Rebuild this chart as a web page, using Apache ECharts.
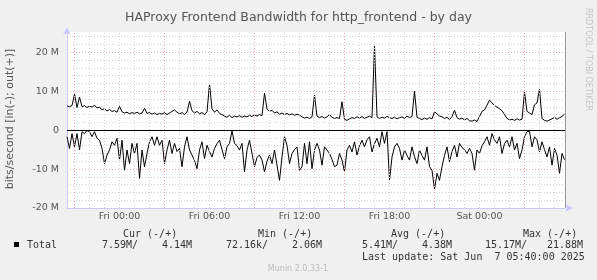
<!DOCTYPE html>
<html><head><meta charset="utf-8">
<script src="https://cdn.jsdelivr.net/npm/echarts@6/dist/echarts.min.js"></script>
<style>html,body{margin:0;padding:0;background:#f0f0f0;}#c{width:597px;height:280px;}</style>
</head><body><div id="c"></div>
<script>
// ---- data (Mbit/s), one sample every 10 minutes starting Thu 20:30 (hour -3.5 relative to Fri 00:00)
const startHour = -3.5;
const stepHours = 1 / 6;

const outValues = [
  6.2,6.0,6.3,9.2,5.8,8.5,6.0,6.3,5.8,6.2,
  5.9,6.4,5.7,5.9,5.2,5.5,4.9,5.3,4.8,5.0,
  4.6,6.1,4.7,4.4,4.6,4.2,4.5,4.3,4.6,4.2,
  4.4,5.6,4.3,4.5,4.1,4.4,4.0,4.3,4.1,4.5,
  4.0,4.4,4.8,5.2,4.6,4.2,4.5,4.0,4.6,7.4,
  5.0,4.4,4.8,4.2,4.5,4.0,4.7,11.8,5.5,4.6,
  5.2,4.3,4.0,3.6,3.3,3.8,3.2,3.6,3.4,3.7,
  3.3,3.6,3.4,3.8,3.5,3.9,3.6,4.0,3.7,9.5,
  5.4,4.8,5.1,4.4,4.7,4.1,4.4,4.0,4.3,3.9,
  4.2,3.8,4.1,3.9,
  3.4,3.1,3.3,3.0,3.4,9.0,3.6,3.2,3.5,3.1,
  3.4,4.0,3.3,3.0,3.2,3.0,7.3,2.8,2.5,2.9,
  3.2,3.0,3.4,3.1,3.5,3.0,3.3,3.6,3.2,21.88,
  3.4,3.0,3.3,3.1,3.5,3.2,3.0,3.3,2.9,3.2,
  3.4,3.0,3.6,3.2,3.5,10.0,3.3,3.0,2.7,3.1,
  2.8,3.2,2.9,4.7,4.2,3.6,3.4,3.0,3.3,2.7,
  3.5,5.1,3.2,2.8,3.1,2.6,3.0,2.4,2.3,2.6,
  2.2,3.5,4.8,5.2,6.4,7.7,7.0,6.3,5.9,5.5,
  5.0,4.0,3.0,2.6,2.8,2.5,2.9,2.6,2.8,9.8,
  4.8,4.4,4.0,6.5,7.0,10.5,3.0,2.5,2.3,2.6,
  2.9,3.3,2.8,3.2,3.5,4.14
];

const inValues = [
  -1.7,-4.7,-0.9,-4.3,-0.9,-5.1,-0.4,-0.9,-0.1,-0.4,
  -1.7,-0.4,-2.1,-2.6,-4.7,-8.6,-6.4,-5.1,-3.0,-3.9,
  -2.1,-7.7,-2.6,-10.3,-5.1,-8.6,-3.4,-6.0,-3.4,-12.4,
  -5.1,-9.4,-6.0,-3.0,-1.7,-3.9,-1.7,-3.9,-2.6,-8.6,
  -5.1,-2.6,-6.0,-3.4,-5.5,-4.7,-9.4,-4.3,-1.7,-5.1,
  -6.4,-7.8,-9.9,-5.1,-3.0,-7.3,-3.9,-5.5,-6.9,-4.7,
  -3.5,-2.6,-5.0,-7.3,-4.3,-3.4,-0.2,-3.4,-4.0,-5.1,
  -3.4,-10.7,-5.1,-2.6,-6.0,-9.4,-7.0,-6.4,-7.7,-10.7,
  -8.0,-6.4,-8.6,-5.1,-9.0,-12.9,-6.9,-1.7,-3.9,-8.6,
  -6.0,-5.0,-4.3,-10.3,
  -9.4,-3.4,-8.6,-3.0,-9.9,-5.1,-3.4,-5.1,-9.0,-4.3,
  -5.1,-6.0,-7.5,-9.4,-9.0,-6.0,-7.7,-10.7,-5.1,-3.9,
  -5.6,-3.0,-6.4,-4.0,-2.6,-4.3,-2.5,-1.7,-5.6,-3.5,
  -2.1,-4.3,-0.4,-3.4,-0.4,-12.9,-6.9,-4.3,-3.4,-4.7,
  -7.7,-5.1,-6.5,-7.7,-4.3,-6.8,-8.6,-5.1,-6.5,-7.7,
  -4.3,-9.4,-10.3,-15.2,-11.1,-12.9,-9.4,-6.5,-4.3,-8.1,
  -5.5,-3.9,-6.9,-3.4,-4.5,-5.0,-6.0,-4.7,-6.0,-10.3,
  -5.1,-6.0,-4.0,-3.0,-1.7,-3.9,-0.9,-2.5,-3.4,-1.7,
  -6.0,-3.5,-2.6,-4.3,-1.7,-5.1,-3.4,-7.3,-5.1,-1.7,
  -0.4,-0.3,-4.3,-1.7,-2.5,-5.6,-3.0,-5.0,-6.9,-4.3,
  -9.0,-4.7,-6.4,-11.1,-6.0,-7.59
];

const xTickHours = [0, 6, 12, 18, 24];
const xTickLabels = ['Fri 00:00', 'Fri 06:00', 'Fri 12:00', 'Fri 18:00', 'Sat 00:00'];
const majorGridHours = [-3, 3, 9, 15, 21, 27];
const minorGridHours = [-2,-1,0,1,2,4,5,6,7,8,10,11,12,13,14,16,17,18,19,20,22,23,24,25,26,28,29];
const xRange = [-3.5, 29.7];
const yRange = [-20, 25.2];

const titleText = 'HAProxy Frontend Bandwidth for http_frontend - by day';
const yAxisTitle = 'bits/second [in(-); out(+)]';
const legendName = 'Total';
const statHeaders = ['Cur (-/+)', 'Min (-/+)', 'Avg (-/+)', 'Max (-/+)'];
const statIn = ['7.59M/', '72.16k/', '5.41M/', '15.17M/'];
const statOut = ['4.14M', '2.06M', '4.38M', '21.88M'];
const lastUpdate = 'Last update: Sat Jun  7 05:40:00 2025';
const creditText = 'RRDTOOL / TOBI OETIKER';
const versionText = 'Munin 2.0.33-1';

// ---- chart
const chart = echarts.init(document.getElementById('c'), null, {renderer: 'canvas'});
const SANS = '"DejaVu Sans", sans-serif';
const MONO = '"DejaVu Sans Mono", monospace';
const toPts = arr => arr.map((v, i) => [startHour + i * stepHours, v]);

const headerX = [123, 258, 391, 523];
const inX = [102, 226, 362, 485];
const outX = [162, 292, 422, 547];
const graphics = [
  {type:'text', x:10, y:119, rotation:Math.PI/2, style:{text:yAxisTitle, fill:'#555', font:'11px '+SANS, align:'center', verticalAlign:'middle'}},
  {type:'text', x:588, y:8, rotation:-Math.PI/2, style:{text:creditText, fill:'#c4c4c4', font:'8px '+SANS, align:'left', verticalAlign:'middle'}},
  {type:'rect', shape:{x:14, y:242, width:5, height:5}, style:{fill:'#000'}},
  {type:'text', x:27, y:245, style:{text:legendName, fill:'#333', font:'10px '+MONO, verticalAlign:'middle'}},
  {type:'text', x:362, y:257, style:{text:lastUpdate, fill:'#333', font:'10px '+MONO, verticalAlign:'middle'}},
  {type:'text', x:298, y:269, style:{text:versionText, fill:'#bbb', font:'8px '+SANS, align:'center', verticalAlign:'middle'}}
];
statHeaders.forEach((t, k) => graphics.push({type:'text', x:headerX[k], y:234, style:{text:t, fill:'#333', font:'10px '+MONO, verticalAlign:'middle'}}));
statIn.forEach((t, k) => graphics.push({type:'text', x:inX[k], y:245, style:{text:t, fill:'#333', font:'10px '+MONO, verticalAlign:'middle'}}));
statOut.forEach((t, k) => graphics.push({type:'text', x:outX[k], y:245, style:{text:t, fill:'#333', font:'10px '+MONO, verticalAlign:'middle'}}));

const gridLineData = [
  ...minorGridHours.map(h => ({xAxis: h, lineStyle: {color:'#d4d4d4', type:[1,2], width:1}})),
  ...majorGridHours.map(h => ({xAxis: h, lineStyle: {color:'#f2a8a8', type:[1,2], width:1}}))
];

chart.setOption({
  animation: false,
  backgroundColor: '#f0f0f0',
  title: {text: titleText, left: 'center', top: 6, textStyle: {fontSize: 12.5, fontWeight: 'normal', fontFamily: SANS, color: '#555'}},
  grid: {left: 67, top: 32, width: 498, height: 176, show: true, backgroundColor: '#fff', borderWidth: 0},
  xAxis: {
    type: 'value', min: xRange[0], max: xRange[1],
    splitLine: {show: false}, axisTick: {show: false},
    axisLine: {show: true, onZero: false, lineStyle: {color: '#c8c8ff'}, symbol: ['none', 'arrow'], symbolSize: [6, 8], symbolOffset: [0, 8]},
    axisLabel: {customValues: xTickHours, formatter: v => xTickLabels[xTickHours.indexOf(v)] || '', color: '#555', fontSize: 9.5, fontFamily: SANS, margin: 4}
  },
  yAxis: [
    {
      type: 'value', min: yRange[0], max: yRange[1], interval: 2, position: 'left',
      axisLine: {show: true, onZero: false, lineStyle: {color: '#c8c8ff'}, symbol: ['none', 'arrow'], symbolSize: [6, 8], symbolOffset: [0, 5]},
      axisTick: {show: false}, axisLabel: {show: false},
      splitLine: {show: true, showMinLine: false, showMaxLine: false, lineStyle: {color: '#d4d4d4', type: [1, 2]}}
    },
    {
      type: 'value', min: yRange[0], max: yRange[1], interval: 10, position: 'left',
      axisLine: {show: false}, axisTick: {show: false},
      axisLabel: {formatter: v => (v === 0 ? '0' : (Number.isInteger(v / 10) ? v + ' M' : '')), color: '#555', fontSize: 9.5, fontFamily: SANS, margin: 8},
      splitLine: {show: true, showMinLine: false, showMaxLine: false, lineStyle: {color: '#f2a8a8', type: [1, 2]}}
    }
  ],
  series: [
    {type: 'line', data: [], z: 1, silent: true,
     markLine: {silent: true, symbol: 'none', animation: false, label: {show: false}, emphasis: {disabled: true}, data: gridLineData}},
    {type: 'line', name: 'in', data: toPts(inValues), showSymbol: false, symbol: 'none', lineStyle: {color: '#000', width: 1}, z: 3, silent: true},
    {type: 'line', name: 'out', data: toPts(outValues), showSymbol: false, symbol: 'none', lineStyle: {color: '#000', width: 1}, z: 3, silent: true,
     markLine: {silent: true, symbol: 'none', animation: false, label: {show: false}, emphasis: {disabled: true},
       data: [{yAxis: 0, lineStyle: {color: '#000', type: 'solid', width: 1}},
              {xAxis: xRange[1], lineStyle: {color: '#999', type: 'solid', width: 1}}]}}
  ],
  graphic: graphics
});
</script></body></html>
